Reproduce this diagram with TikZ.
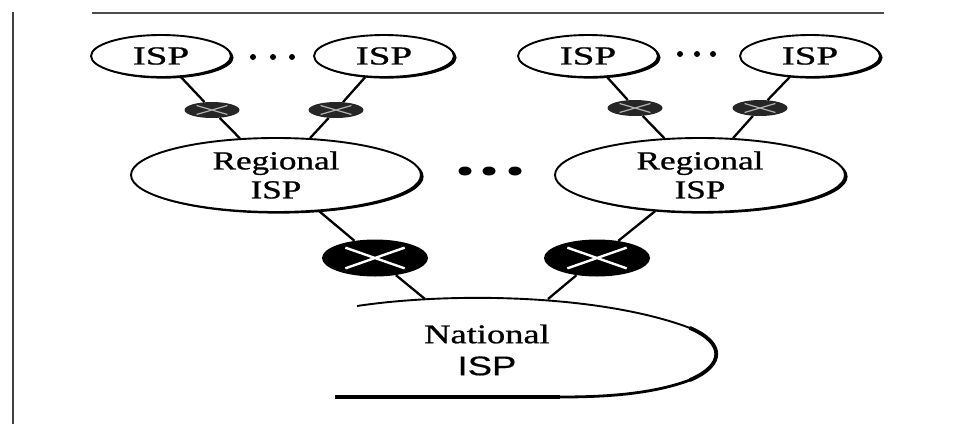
\documentclass[tikz,border=0pt]{standalone}
\usepackage{fontspec}
\usepackage{graphicx}
\setmainfont{Liberation Serif}[FakeBold=0.8]
\newfontfamily\natsans{Liberation Sans}[FakeBold=0.4]
\usetikzlibrary{shapes.geometric,shadows,calc}
\newcommand{\stretchtxt}[2][1.35]{\scalebox{#1}[1]{#2}}

\begin{document}
\begin{tikzpicture}[x=1pt, y=-1pt,
  isp/.style={ellipse, draw, line width=1.9pt, fill=white, inner sep=0pt,
    minimum width=140pt, minimum height=42pt, font=\fontsize{26}{29}\selectfont,
    drop shadow={shadow xshift=2.6pt, shadow yshift=-1.6pt, opacity=1, fill=black}},
  regional/.style={isp, minimum width=290pt, minimum height=74pt, align=center},
  xmark/.style={white, line width=2.4pt},
  router/.style={ellipse, fill=black, inner sep=0pt, minimum width=106pt, minimum height=37pt,
    path picture={\draw[xmark]
      ($(path picture bounding box.north west)!.22!(path picture bounding box.south east)$) --
      ($(path picture bounding box.north west)!.78!(path picture bounding box.south east)$)
      ($(path picture bounding box.south west)!.22!(path picture bounding box.north east)$) --
      ($(path picture bounding box.south west)!.78!(path picture bounding box.north east)$);}},
  smallrouter/.style={router, fill=black!85, minimum width=55pt, minimum height=16pt,
    xmark/.style={black!30, line width=1.2pt}},
  link/.style={line width=2.3pt}]
\useasboundingbox (0,0) rectangle (956,424);

% frame lines
\draw[black!75, line width=1.6pt] (13,12) -- (13,424);
\draw[black!70, line width=1.4pt] (92,13) -- (884,13);

% local ISPs
\node[isp] (ISPa) at (161,56) {\stretchtxt[1.5]{ISP}};
\node[isp] (ISPb) at (384,56) {\stretchtxt[1.5]{ISP}};
\node[isp] (ISPc) at (588,56) {\stretchtxt[1.5]{ISP}};
\node[isp] (ISPd) at (810,56) {\stretchtxt[1.5]{ISP}};
\foreach \x in {253,273,292} \fill (\x,57) circle (3);
\foreach \x in {680,697,713} \fill (\x,54) circle (3);

% regional ISPs
\node[regional] (Reg1) at (276,175) {\stretchtxt{Regional}\\\stretchtxt{ISP}};
\node[regional] (Reg2) at (700,175) {\stretchtxt{Regional}\\\stretchtxt{ISP}};
\foreach \x in {465,489,515} \fill (\x,171) ellipse (6.5 and 4.5);

% routers
\node[smallrouter] (Rtr1) at (212,110) {};
\node[smallrouter] (Rtr2) at (336,110) {};
\node[smallrouter] (Rtr3) at (635,108) {};
\node[smallrouter] (Rtr4) at (760,108) {};
\node[router] (Rtr5) at (375,258) {};
\node[router] (Rtr6) at (597,258) {};

% national ISP
\draw[line width=1.9pt] (357,306) .. controls (450,292) and (600,294) .. (690,328);
\draw[line width=3.8pt, line cap=round] (690,328) .. controls (725,343) and (725,365) .. (690,380);
\draw[line width=2.8pt] (690,380) .. controls (650,395) and (600,397) .. (560,397);
\draw[line width=4.5pt] (335,397) -- (560,397);
\node[align=center, font=\fontsize{27}{32}\selectfont] (Nat) at (487,350)
  {\stretchtxt{National}\\{\natsans\stretchtxt{ISP}}};
\coordinate (NatL) at (425,299);
\coordinate (NatR) at (548,299);

% links
\draw[link] (ISPa) -- (Rtr1) -- (Reg1);
\draw[link] (ISPb) -- (Rtr2) -- (Reg1);
\draw[link] (ISPc) -- (Rtr3) -- (Reg2);
\draw[link] (ISPd) -- (Rtr4) -- (Reg2);
\draw[link] (Reg1) -- (Rtr5) -- (NatL);
\draw[link] (Reg2) -- (Rtr6) -- (NatR);
\end{tikzpicture}
\end{document}
